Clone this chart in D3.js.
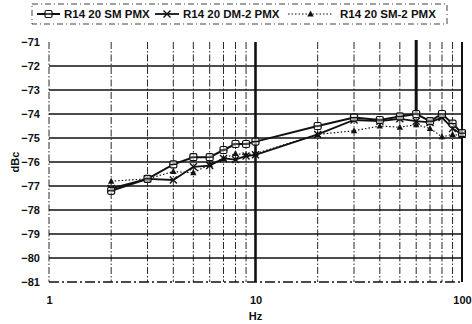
<!DOCTYPE html>
<html>
<head>
<meta charset="utf-8">
<script src="https://cdn.jsdelivr.net/npm/d3@7"></script>
<style>
  html, body { margin: 0; padding: 0; background: #fff; }
  svg { display: block; }
  text { font-family: "Liberation Sans", Arial, sans-serif; font-weight: bold; fill: #111; }
</style>
</head>
<body>
<svg id="chart" width="472" height="324"></svg>
<script>
// Measurement frequencies (Hz)
const freqs = [2, 3, 4, 5, 6, 7, 8, 9, 10, 20, 30, 40, 50, 60, 70, 80, 90, 100];

// Noise level per series (dBc)
const smPmx   = [-77.2, -76.7, -76.1, -75.8, -75.8, -75.5, -75.25, -75.25, -75.15, -74.5, -74.15, -74.25, -74.1, -74.0, -74.3, -74.0, -74.4, -74.8];
const dm2Pmx  = [-77.1, -76.7, -76.75, -76.2, -76.15, -75.85, -75.9, -75.75, -75.7, -74.85, -74.25, -74.3, -74.2, -74.3, -74.35, -74.15, -74.6, -74.85];
const sm2Pmx  = [-76.8, -76.7, -76.4, -76.45, -76.1, -75.85, -75.65, -75.7, -75.65, -74.85, -74.7, -74.5, -74.55, -74.45, -74.6, -74.95, -74.85, -74.9];

const seriesNames = ["R14 20 SM PMX", "R14 20 DM-2 PMX", "R14 20 SM-2 PMX"];

// 60 Hz mains line on the SM PMX trace, peaking off the top of the scale
const humFreq = 60;
const humPeak = -60;

const yTicks = [-71, -72, -73, -74, -75, -76, -77, -78, -79, -80, -81];
const xTicks = [1, 10, 100];
const xLabel = "Hz";
const yLabel = "dBc";

const svg = d3.select("#chart");
const x = d3.scaleLog().domain([1, 100]).range([49, 462]);
const y = d3.scaleLinear().domain([-81, -71]).range([282, 42]);

const ink = "#111";

// clip for data traces
svg.append("defs").append("clipPath").attr("id", "plotClip")
  .append("rect")
  .attr("x", x(1) - 4).attr("y", y(-71) - 2)
  .attr("width", x(100) - x(1) + 8).attr("height", y(-81) - y(-71) + 6);

// vertical grid: every 1-9 multiple per decade
const vGrid = [];
for (let d = 1; d <= 10; d *= 10) for (let m = 1; m <= 9; m++) vGrid.push(d * m);
vGrid.push(100);

const grid = svg.append("g");
grid.selectAll("line.v").data(vGrid).join("line")
  .attr("x1", d => x(d)).attr("x2", d => x(d))
  .attr("y1", y(-71)).attr("y2", y(-81))
  .attr("stroke", ink)
  .attr("stroke-width", d => d === 10 ? 2.6 : d === 100 ? 2 : 0.9)
  .attr("stroke-dasharray", d => (d === 10 || d === 100) ? null : "7,2,1.5,2");

// horizontal grid
grid.selectAll("line.h").data(yTicks.filter(v => v !== -71)).join("line")
  .attr("x1", x(1)).attr("x2", x(100))
  .attr("y1", d => y(d)).attr("y2", d => y(d))
  .attr("stroke", ink)
  .attr("stroke-width", 1.3)
  .attr("stroke-dasharray", d => d === -81 ? "10,3,2,3" : null);

// axes (labels only)
const yAxis = svg.append("g").attr("transform", `translate(${x(1) - 6},0)`)
  .call(d3.axisLeft(y).tickValues(yTicks).tickSize(0).tickFormat(d3.format("d")));
yAxis.select(".domain").remove();
yAxis.selectAll("text").attr("font-size", 11).attr("dx", 0).attr("dy", "0.35em");

const xAxis = svg.append("g").attr("transform", `translate(0,${y(-81) + 9})`)
  .call(d3.axisBottom(x).tickValues(xTicks).tickSize(0).tickFormat(d3.format("d")));
xAxis.select(".domain").remove();
xAxis.selectAll("text").attr("font-size", 11).attr("dy", "0.9em");

svg.selectAll("text").style("font-family", "'Liberation Sans', Arial, sans-serif").style("font-weight", "bold").attr("fill", ink);

svg.append("text").attr("x", x(10)).attr("y", 320).attr("text-anchor", "middle")
  .attr("font-size", 11).text(xLabel);
svg.append("text").attr("transform", `translate(19,${y(-76)}) rotate(-90)`)
  .attr("text-anchor", "middle").attr("font-size", 11).text(yLabel);

// data traces
const plot = svg.append("g").attr("clip-path", "url(#plotClip)");
const line = d3.line().x(d => x(d[0])).y(d => y(d[1]));
const pts = vals => freqs.map((f, i) => [f, vals[i]]);

// mains spike on SM PMX
const humIdx = freqs.indexOf(humFreq);
plot.append("line")
  .attr("x1", x(humFreq)).attr("x2", x(humFreq))
  .attr("y1", y(smPmx[humIdx])).attr("y2", y(humPeak))
  .attr("stroke", ink).attr("stroke-width", 3);

plot.append("path").attr("d", line(pts(sm2Pmx)))
  .attr("fill", "none").attr("stroke", ink).attr("stroke-width", 1.2).attr("stroke-dasharray", "1.5,2");
plot.append("path").attr("d", line(pts(dm2Pmx)))
  .attr("fill", "none").attr("stroke", ink).attr("stroke-width", 1.8);
plot.append("path").attr("d", line(pts(smPmx)))
  .attr("fill", "none").attr("stroke", ink).attr("stroke-width", 2);

// marker drawers
function squareMark(g, cx, cy) {
  g.append("rect").attr("x", cx - 3.5).attr("y", cy - 3.5).attr("width", 7).attr("height", 7)
    .attr("rx", 1.5).attr("fill", "#fff").attr("fill-opacity", 0.6)
    .attr("stroke", ink).attr("stroke-width", 1.2);
  g.append("line").attr("x1", cx - 3.5).attr("x2", cx + 3.5).attr("y1", cy).attr("y2", cy)
    .attr("stroke", ink).attr("stroke-width", 1.2);
}
function crossMark(g, cx, cy) {
  g.append("path").attr("d", `M${cx - 3.5},${cy - 3.5}L${cx + 3.5},${cy + 3.5}M${cx - 3.5},${cy + 3.5}L${cx + 3.5},${cy - 3.5}`)
    .attr("stroke", ink).attr("stroke-width", 1.4);
}
function triMark(g, cx, cy) {
  g.append("path").attr("d", `M${cx},${cy - 3.5}L${cx + 3.2},${cy + 2.5}L${cx - 3.2},${cy + 2.5}Z`)
    .attr("fill", ink);
}

const marks = plot.append("g");
pts(sm2Pmx).forEach(p => triMark(marks, x(p[0]), y(p[1])));
pts(dm2Pmx).forEach(p => crossMark(marks, x(p[0]), y(p[1])));
pts(smPmx).forEach(p => squareMark(marks, x(p[0]), y(p[1])));

// legend
const lg = svg.append("g");
lg.append("rect").attr("x", 32).attr("y", 4).attr("width", 415).attr("height", 20)
  .attr("fill", "none").attr("stroke", ink).attr("stroke-width", 0.8).attr("stroke-dasharray", "6,3,1,3");
const legendItems = [
  { sx: 37, ex: 60, tx: 64, mark: squareMark, dash: null, w: 2 },
  { sx: 155, ex: 179, tx: 183, mark: crossMark, dash: null, w: 1.8 },
  { sx: 288, ex: 333, tx: 340, mark: triMark, dash: "1.5,2", w: 1.2 }
];
legendItems.forEach((it, i) => {
  const cy = 14;
  lg.append("line").attr("x1", it.sx).attr("x2", it.ex).attr("y1", cy).attr("y2", cy)
    .attr("stroke", ink).attr("stroke-width", it.w).attr("stroke-dasharray", it.dash);
  it.mark(lg, (it.sx + it.ex) / 2, cy);
  lg.append("text").attr("x", it.tx).attr("y", cy + 4).attr("font-size", 11.5).text(seriesNames[i]);
});
</script>
</body>
</html>
